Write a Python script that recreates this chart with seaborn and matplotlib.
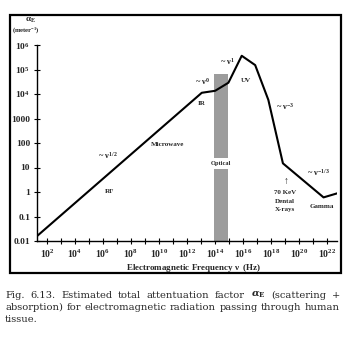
import numpy as np
import pandas as pd
import seaborn as sns
import matplotlib
matplotlib.use("Agg")
import matplotlib.pyplot as plt
from matplotlib.patches import Rectangle

sns.set_theme(style="white")
plt.rcParams["font.family"] = ["Liberation Serif", "DejaVu Serif"]
plt.rcParams["font.weight"] = "bold"
plt.rcParams["mathtext.fontset"] = "custom"
plt.rcParams["mathtext.rm"] = "Liberation Serif:bold"
plt.rcParams["mathtext.it"] = "Liberation Serif:bold"
plt.rcParams["mathtext.bf"] = "Liberation Serif:bold"

# Attenuation curve: log10 of frequency (Hz) and of alpha_E (1/m)
log_freq = [1.29, 13.05, 14.0, 14.95, 15.9, 16.86, 17.8, 18.84, 21.74, 22.74]
log_alpha = [-1.80, 4.05, 4.13, 4.46, 5.56, 5.18, 3.76, 1.17, -0.22, -0.05]

# Optical band (log10 Hz) and its vertical extent (log10 alpha)
optical_band = (13.93, 14.93)
optical_top = 4.82
optical_gap = (0.94, 1.39)

y_ticks = [-2, -1, 0, 1, 2, 3, 4, 5, 6]
y_tick_labels = ["0.01", "0.1", "1", "10", "100", "1000",
                 "$10^4$", "$10^5$", "$10^6$"]
x_ticks = list(range(2, 23))
x_tick_labels = ["$10^{%d}$" % e if e % 2 == 0 else "" for e in x_ticks]

caption_lines = [
    r"Fig. 6.13. Estimated total attentuation factor $\alpha_\mathrm{E}$ (scattering +",
    "absorption) for electromagnetic radiation passing through human",
    "tissue.",
]

df = pd.DataFrame({"freq": np.power(10.0, log_freq),
                   "alpha": np.power(10.0, log_alpha)})

W, H = 354, 343
fig = plt.figure(figsize=(W / 100, H / 100), dpi=100)
ax = fig.add_axes([37 / W, 1 - 241 / H, 300 / W, 196 / H])

ax.set_xscale("log")
ax.set_yscale("log")
ax.set_xlim(10 ** log_freq[0], 10 ** 22.7)
ax.set_ylim(1e-2, 1e6)

# Optical window, interrupted behind its label
lo, hi = 10 ** optical_band[0], 10 ** optical_band[1]
ax.fill_between([lo, hi], 1e-2, 10 ** optical_gap[0], color="#9c9c9c", lw=0, zorder=1)
ax.fill_between([lo, hi], 10 ** optical_gap[1], 10 ** optical_top, color="#9c9c9c",
                lw=0, zorder=1)

sns.lineplot(data=df, x="freq", y="alpha", ax=ax, color="black", lw=1.5,
             sort=False, zorder=3)

for s in ("top", "right"):
    ax.spines[s].set_visible(False)
for s in ("left", "bottom"):
    ax.spines[s].set_color("black")
    ax.spines[s].set_linewidth(1.0)

ax.set_yticks([10.0 ** e for e in y_ticks])
ax.set_yticklabels(y_tick_labels)
ax.set_xticks([10.0 ** e for e in x_ticks])
ax.set_xticklabels(x_tick_labels)
ax.minorticks_off()
ax.tick_params(axis="both", which="major", direction="inout", length=4, width=0.8,
               color="black", labelsize=6.8, pad=3, bottom=True, left=True)
ax.tick_params(axis="x", pad=2.5, labelsize=7.0)
ax.set_xlabel("")
ax.set_ylabel("")

fs = 5.0
def lab(x, y, s, size=fs, **kw):
    ax.text(10 ** x, 10 ** y, s, fontsize=size, fontweight="bold",
            ha="center", va="center", **kw)

lab(6.36, 1.51, r"~ $\nu^{1/2}$", size=6)
lab(6.5, 0.04, "RF")
lab(10.64, 1.92, "Microwave")
lab(13.07, 3.63, "IR")
lab(13.14, 4.49, r"~ $\nu^{0}$", size=6)
lab(14.86, 5.31, r"~ $\nu^{1}$", size=6)
lab(16.21, 4.57, "UV")
lab(19.0, 3.51, r"~ $\nu^{-3}$", size=6)
lab(21.36, 0.78, r"~ $\nu^{-1/3}$", size=6)
lab(21.64, -0.61, "Gamma")
lab(14.43, 1.17, "Optical", size=4.6)
lab(19.0, 0.45, r"$\uparrow$", size=7)
lab(19.0, -0.04, "70 KeV")
lab(19.0, -0.37, "Dental")
lab(19.0, -0.73, "X-rays")

fig.text(194 / W, 1 - 268 / H, r"Electromagnetic Frequency $\nu$  (Hz)",
         fontsize=6.5, fontweight="bold", ha="center", va="center")
fig.text(30 / W, 1 - 20 / H, r"$\alpha_{E}$", fontsize=6.5, ha="center", va="center")
fig.text(26 / W, 1 - 30 / H, r"(meter$^{-1}$)", fontsize=4.8, ha="center", va="center")

# Outer frame around the plot
fig.patches.append(Rectangle((10 / W, 1 - 273 / H), 331 / W, 258 / H,
                             transform=fig.transFigure, fill=False,
                             edgecolor="black", lw=1.6))

# Caption, justified between two margins
cap = dict(fontsize=7.15, fontweight="normal", family=["DejaVu Serif"],
           math_fontfamily="dejavuserif", va="center", ha="left")
renderer = fig.canvas.get_renderer()
x_left, x_right = 5, 340
for i, (line, ypix) in enumerate(zip(caption_lines, [295, 307, 319])):
    y = 1 - ypix / H
    if i == len(caption_lines) - 1:
        fig.text(x_left / W, y, line, **cap)
        continue
    words = line.split(" ")
    texts = [fig.text(0, y, w, **cap) for w in words]
    widths = [t.get_window_extent(renderer).width for t in texts]
    gap = (x_right - x_left - sum(widths)) / (len(words) - 1)
    xpos = x_left
    for t, w in zip(texts, widths):
        t.set_x(xpos / W)
        xpos += w + gap

fig.savefig("out.png", dpi=100)
